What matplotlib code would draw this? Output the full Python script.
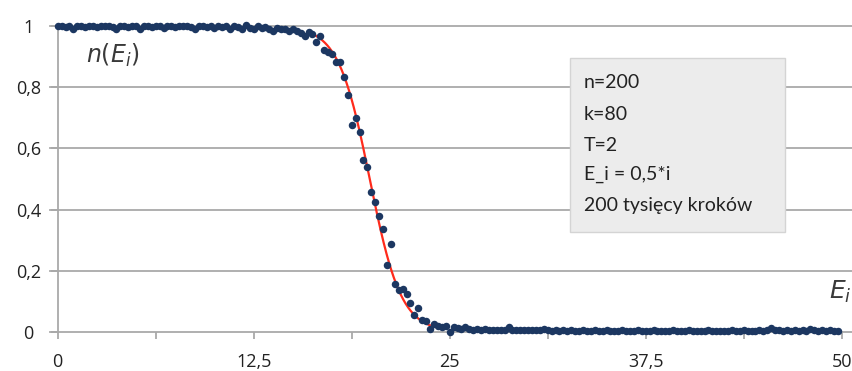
import numpy as np
import matplotlib.pyplot as plt
from matplotlib.patches import Rectangle

# occupation of each level (200 levels, step 0.25 on the axis)
occupation = [
    1.0, 1.0, 0.998, 1.0, 0.99, 1.0, 1.0, 0.998, 1.0, 1.0,
    0.996, 1.0, 1.0, 1.0, 0.998, 0.99, 1.0, 1.0, 0.998, 1.0,
    1.0, 0.99, 1.0, 1.0, 0.998, 1.0, 1.0, 0.995, 1.0, 1.0,
    0.998, 1.0, 1.0, 1.0, 0.998, 0.99, 1.0, 1.0, 0.997, 1.0,
    0.993, 1.0, 0.998, 1.0, 0.99, 1.0, 0.997, 0.99, 1.003, 0.995,
    0.99, 1.0, 0.995, 0.998, 0.99, 0.985, 0.995, 0.99, 0.99, 0.985,
    0.99, 0.985, 0.978, 0.968, 0.982, 0.974, 0.949, 0.968, 0.922, 0.917,
    0.908, 0.882, 0.882, 0.833, 0.775, 0.677, 0.700, 0.653, 0.562, 0.538,
    0.458, 0.424, 0.379, 0.336, 0.218, 0.286, 0.156, 0.136, 0.139, 0.123,
    0.095, 0.055, 0.077, 0.038, 0.036, 0.008, 0.025, 0.019, 0.014, 0.019,
    0.0, 0.016, 0.012, 0.010, 0.014, 0.008, 0.006, 0.010, 0.006, 0.008,
    0.005, 0.006, 0.005, 0.006, 0.004, 0.014, 0.005, 0.004, 0.005, 0.004,
    0.004, 0.005, 0.004, 0.004, 0.010, 0.004, 0.003, 0.004, 0.003, 0.004,
    0.003, 0.004, 0.003, 0.003, 0.004, 0.003, 0.003, 0.004, 0.003, 0.003,
    0.004, 0.003, 0.003, 0.003, 0.004, 0.003, 0.003, 0.003, 0.004, 0.003,
    0.003, 0.003, 0.004, 0.003, 0.003, 0.003, 0.003, 0.004, 0.003, 0.003,
    0.003, 0.004, 0.003, 0.003, 0.003, 0.003, 0.004, 0.003, 0.003, 0.003,
    0.003, 0.003, 0.004, 0.003, 0.003, 0.004, 0.003, 0.003, 0.003, 0.004,
    0.003, 0.005, 0.012, 0.004, 0.004, 0.003, 0.004, 0.003, 0.004, 0.003,
    0.004, 0.003, 0.010, 0.004, 0.003, 0.004, 0.003, 0.004, 0.003, 0.003,
]
step = 0.25
energy = [step * i for i in range(len(occupation))]

# Fermi-Dirac fit drawn over the transition
mu = 19.9
kT = 1.0
fit_start, fit_end = 16.2, 23.8

xticks = [0, 6.25, 12.5, 18.75, 25, 31.25, 37.5, 43.75, 50]
xticklabels = ['0', '', '12,5', '', '25', '', '37,5', '', '50']
yticks = [0, 0.2, 0.4, 0.6, 0.8, 1]
yticklabels = ['0', '0,2', '0,4', '0,6', '0,8', '1']

info_lines = ['n=200', 'k=80', 'T=2', 'E_i = 0,5*i', '200 tysięcy kroków']

grid_col = '#a9a9a9'

fig = plt.figure(figsize=(8.53, 3.71), dpi=100)
ax = fig.add_axes([0.0676, 0.1059, 0.9192, 0.8235])

for y in yticks:
    ax.axhline(y, xmin=-0.0098, xmax=1.014, color=grid_col, lw=1.3, zorder=0, clip_on=False)

xf = np.linspace(fit_start, fit_end, 200)
ax.plot(xf, 1 / (np.exp((xf - mu) / kT) + 1), color='#ff2b1c', lw=1.6, zorder=2)
ax.plot(energy, occupation, 'o', color='#1c3761', ms=5.4, mew=0, zorder=3, clip_on=False)

ax.set_xlim(0, 50)
ax.set_ylim(0, 1)
for side in ['top', 'right', 'bottom']:
    ax.spines[side].set_visible(False)
ax.spines['left'].set_color(grid_col)
ax.spines['left'].set_linewidth(1.3)

ax.set_xticks(xticks)
ax.set_xticklabels(xticklabels, fontsize=13, family='Open Sans', color='#222222')
ax.set_yticks(yticks)
ax.set_yticklabels(yticklabels, fontsize=13, family='Open Sans', color='#222222')
ax.tick_params(axis='x', length=5, width=1.3, color=grid_col, pad=10)
ax.tick_params(axis='y', length=5, width=1.3, color=grid_col, pad=16)
for lab in ax.get_yticklabels():
    lab.set_horizontalalignment('center')

fig.text(86 / 853, 1 - 55 / 371, r'$\mathit{n(E_i)}$', fontsize=17, color='#3a3a3a',
         va='center', ha='left')
fig.text(829 / 853, 1 - 292 / 371, r'$\mathit{E_i}$', fontsize=18, color='#3a3a3a',
         va='center', ha='left')

box = Rectangle((570 / 853, 1 - 232 / 371), 215 / 853, 174 / 371, transform=fig.transFigure,
                facecolor='#ececec', edgecolor='#d4d4d4', lw=1, zorder=5)
fig.patches.append(box)
line_y = [83, 114, 145, 174, 205]
for txt, y in zip(info_lines, line_y):
    fig.text(584 / 853, 1 - y / 371, txt, fontsize=14, family='Lato', color='#222222',
             va='center', ha='left', zorder=6)

fig.savefig('out.png', dpi=100)
